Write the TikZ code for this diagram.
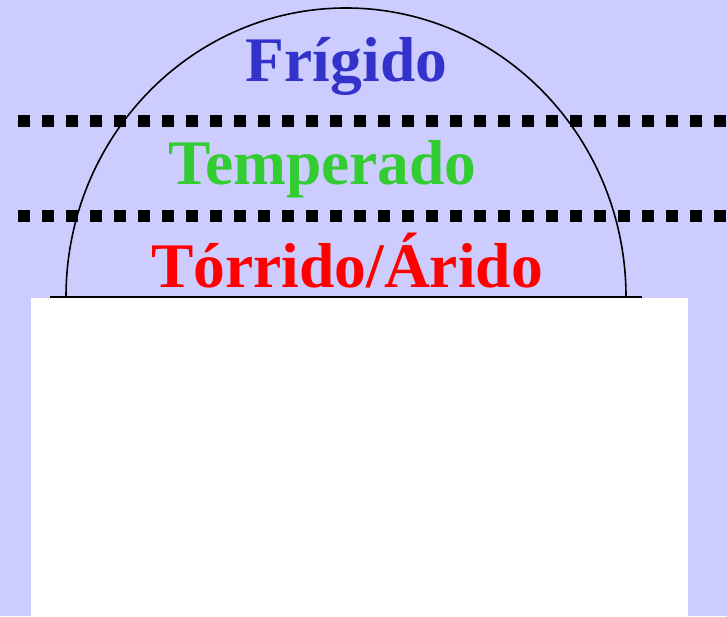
\documentclass[tikz,border=0pt]{standalone}
\usepackage{fontspec}
\setmainfont{Liberation Serif}
\definecolor{bglav}{HTML}{CCCCFF}
\definecolor{zoneblue}{HTML}{3333CC}
\definecolor{zonegreen}{HTML}{33CC33}
\definecolor{zonered}{HTML}{FF0000}
\tikzset{
  zonelabel/.style={anchor=base, inner sep=0pt, font=\bfseries\fontsize{63.5}{70}\selectfont},
  bandline/.style={line width=12pt, dash pattern=on 12pt off 12pt},
}
\begin{document}
\begin{tikzpicture}[x=1pt,y=1pt]
  % background
  \fill[bglav] (0,0) rectangle (727,616);
  \useasboundingbox (0,0) rectangle (727,616);
  % white panel below the base line
  \fill[white] (31,0) rectangle (688,318);
  % dome
  \coordinate (domeL) at (66,319);
  \draw[line width=1.6pt] (domeL) arc[start angle=180, end angle=0, x radius=280, y radius=289];
  % base line
  \coordinate (baseL) at (50,319);
  \coordinate (baseR) at (642,319);
  \draw[line width=2pt] (baseL) -- (baseR);
  % zone separators
  \coordinate (sepA1) at (18,495);
  \coordinate (sepA2) at (727,495);
  \coordinate (sepB1) at (18,400);
  \coordinate (sepB2) at (727,400);
  \draw[bandline] (sepA1) -- (sepA2);
  \draw[bandline] (sepB1) -- (sepB2);
  % zone labels
  \node[zonelabel, text=zoneblue] (frigido) at (346.5,534) {Frígido};
  \node[zonelabel, text=zonegreen] (temperado) at (322.5,431) {Temperado};
  \node[zonelabel, text=zonered] (torrido) at (347,328) {Tórrido/Árido};
\end{tikzpicture}
\end{document}
